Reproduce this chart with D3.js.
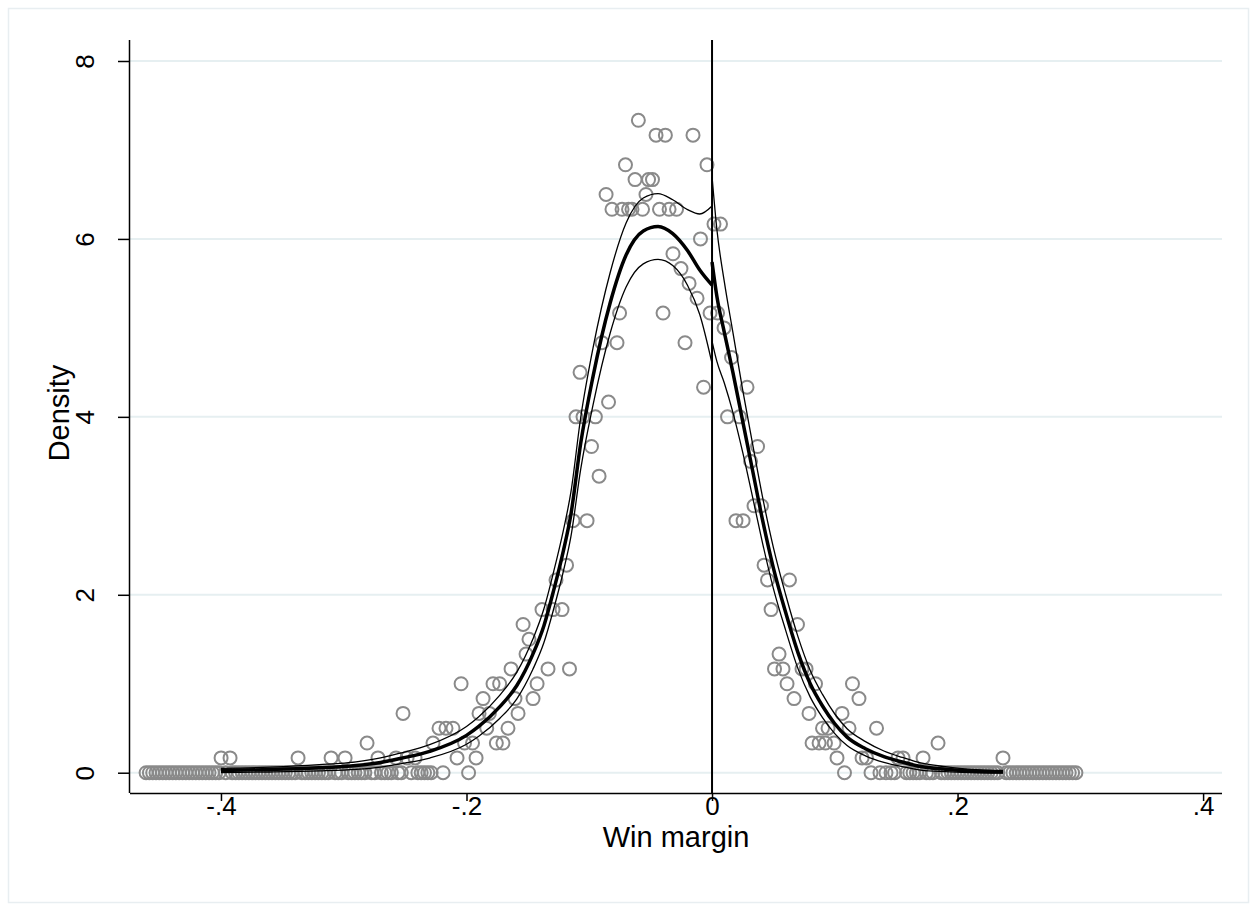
<!DOCTYPE html>
<html>
<head>
<meta charset="utf-8">
<script src="https://cdn.jsdelivr.net/npm/d3@7"></script>
<style>
  html, body { margin: 0; padding: 0; background: #ffffff; }
  svg { display: block; font-family: "Liberation Sans", Arial, sans-serif; }
</style>
</head>
<body>
<svg id="chart" width="1257" height="911"></svg>
<script>
// ---------- data ----------
const xTickValues = [-0.4, -0.2, 0, 0.2, 0.4];
const xTickLabels = ["-.4", "-.2", "0", ".2", ".4"];
const yTickValues = [0, 2, 4, 6, 8];
const yTickLabels = ["0", "2", "4", "6", "8"];
const xTitle = "Win margin";
const yTitle = "Density";
const cutoff = 0;

// binned densities (non-empty bins)
const binX = [
  -0.3999, -0.3926, -0.3372, -0.3103, -0.2989, -0.2810, -0.2721, -0.2574, -0.2517, -0.2484,
  -0.2419, -0.2273, -0.2224, -0.2167, -0.2110, -0.2077, -0.2044, -0.2016, -0.1951, -0.1922,
  -0.1898, -0.1865, -0.1835, -0.1814, -0.1784, -0.1757, -0.1730, -0.1703, -0.1662, -0.1637,
  -0.1605, -0.1580, -0.1539, -0.1515, -0.1491, -0.1458, -0.1425, -0.1385, -0.1336, -0.1295,
  -0.1271, -0.1222, -0.1185, -0.1161, -0.1132, -0.1108, -0.1075, -0.1051, -0.1018, -0.0982,
  -0.0950, -0.0920, -0.0896, -0.0863, -0.0843, -0.0815, -0.0774, -0.0753, -0.0733, -0.0705,
  -0.0680, -0.0652, -0.0627, -0.0600, -0.0566, -0.0538, -0.0517, -0.0485, -0.0456, -0.0428,
  -0.0399, -0.0380, -0.0350, -0.0318, -0.0289, -0.0253, -0.0220, -0.0187, -0.0155, -0.0122,
  -0.0094, -0.0069, -0.0041, -0.0016,
   0.0016,  0.0045,  0.0069,  0.0098,  0.0126,  0.0159,  0.0195,  0.0224,  0.0253,  0.0285,
   0.0314,  0.0342,  0.0371,  0.0403,  0.0424,  0.0452,  0.0481,  0.0509,  0.0546,  0.0578,
   0.0611,  0.0631,  0.0668,  0.0696,  0.0733,  0.0766,  0.0790,  0.0815,  0.0843,  0.0872,
   0.0900,  0.0924,  0.0945,  0.0994,  0.1018,  0.1059,  0.1116,  0.1144,  0.1197,  0.1222,
   0.1258,  0.1340,  0.1515,  0.1556,  0.1719,  0.1841,  0.2370
];
const binDensity = [
  0.1667, 0.1667, 0.1667, 0.1667, 0.1667, 0.3333, 0.1667, 0.1667, 0.6667, 0.1667,
  0.1667, 0.3333, 0.5000, 0.5000, 0.5000, 0.1667, 1.0000, 0.3333, 0.3333, 0.1667,
  0.6667, 0.8333, 0.5000, 0.6667, 1.0000, 0.3333, 1.0000, 0.3333, 0.5000, 1.1667,
  0.8333, 0.6667, 1.6667, 1.3333, 1.5000, 0.8333, 1.0000, 1.8333, 1.1667, 1.8333,
  2.1667, 1.8333, 2.3333, 1.1667, 2.8333, 4.0000, 4.5000, 4.0000, 2.8333, 3.6667,
  4.0000, 3.3333, 4.8333, 6.5000, 4.1667, 6.3333, 4.8333, 5.1667, 6.3333, 6.8333,
  6.3333, 6.3333, 6.6667, 7.3333, 6.3333, 6.5000, 6.6667, 6.6667, 7.1667, 6.3333,
  5.1667, 7.1667, 6.3333, 5.8333, 6.3333, 5.6667, 4.8333, 5.5000, 7.1667, 5.3333,
  6.0000, 4.3333, 6.8333, 5.1667,
  6.1667, 5.1667, 6.1667, 5.0000, 4.0000, 4.6667, 2.8333, 4.0000, 2.8333, 4.3333,
  3.5000, 3.0000, 3.6667, 3.0000, 2.3333, 2.1667, 1.8333, 1.1667, 1.3333, 1.1667,
  1.0000, 2.1667, 0.8333, 1.6667, 1.1667, 1.1667, 0.6667, 0.3333, 1.0000, 0.3333,
  0.5000, 0.3333, 0.5000, 0.3333, 0.1667, 0.6667, 0.5000, 1.0000, 0.8333, 0.1667,
  0.1667, 0.5000, 0.1667, 0.1667, 0.1667, 0.3333, 0.1667
];
// empty bins (density 0)
const zeroBinX = [
  -0.4610, -0.4583, -0.4556, -0.4529, -0.4502, -0.4475, -0.4448, -0.4421, -0.4394, -0.4367,
  -0.4340, -0.4313, -0.4286, -0.4259, -0.4232, -0.4205, -0.4178, -0.4151, -0.4124, -0.4097,
  -0.4070, -0.4043, -0.4016, -0.3962, -0.3908, -0.3881, -0.3854, -0.3827, -0.3800, -0.3773,
  -0.3746, -0.3719, -0.3692, -0.3665, -0.3638, -0.3611, -0.3584, -0.3557, -0.3530, -0.3503,
  -0.3476, -0.3449, -0.3422, -0.3395, -0.3341, -0.3314, -0.3287, -0.3260, -0.3233, -0.3206,
  -0.3179, -0.3152, -0.3125, -0.3071, -0.3044, -0.3017, -0.2963, -0.2936, -0.2909, -0.2882,
  -0.2855, -0.2828, -0.2774, -0.2747, -0.2693, -0.2666, -0.2639, -0.2612, -0.2558, -0.2531,
  -0.2450, -0.2396, -0.2369, -0.2342, -0.2315, -0.2288, -0.2191, -0.1983,
   0.1079,  0.1295,  0.1368,  0.1417,  0.1458,  0.1487,  0.1584,  0.1611,  0.1638,  0.1665,
   0.1692,  0.1746,  0.1773,  0.1800,  0.1868,  0.1895,  0.1922,  0.1949,  0.1976,  0.2003,
   0.2030,  0.2057,  0.2084,  0.2111,  0.2138,  0.2165,  0.2192,  0.2219,  0.2246,  0.2273,
   0.2300,  0.2327,  0.2397,  0.2424,  0.2451,  0.2478,  0.2505,  0.2532,  0.2559,  0.2586,
   0.2613,  0.2640,  0.2667,  0.2694,  0.2721,  0.2748,  0.2775,  0.2802,  0.2829,  0.2856,
   0.2883,  0.2910,  0.2937,  0.2964
];

// fitted density, left of cutoff, with confidence bounds
const leftX     = [-0.40, -0.36, -0.32, -0.29, -0.27, -0.254, -0.23, -0.20, -0.19, -0.173, -0.159, -0.146, -0.137, -0.129, -0.121, -0.115, -0.107, -0.097, -0.083, -0.07, -0.056, -0.044, -0.032, -0.02, -0.01, 0];
const leftFit   = [0.025, 0.035, 0.055, 0.08, 0.115, 0.16, 0.24, 0.42, 0.52, 0.74, 0.98, 1.33, 1.65, 2.05, 2.50, 2.90, 3.70, 4.45, 5.28, 5.82, 6.09, 6.14, 6.06, 5.87, 5.65, 5.48];
const leftLow   = [0.002, 0.008, 0.02, 0.038, 0.064, 0.10, 0.165, 0.32, 0.41, 0.61, 0.83, 1.16, 1.46, 1.84, 2.27, 2.65, 3.41, 4.13, 4.94, 5.46, 5.72, 5.77, 5.70, 5.48, 5.15, 4.60];
const leftHigh  = [0.048, 0.062, 0.09, 0.122, 0.166, 0.22, 0.315, 0.52, 0.63, 0.87, 1.13, 1.50, 1.84, 2.26, 2.73, 3.15, 3.99, 4.77, 5.62, 6.18, 6.46, 6.51, 6.44, 6.33, 6.28, 6.37];
// fitted density, right of cutoff, with confidence bounds
const rightX    = [0, 0.004, 0.01, 0.017, 0.025, 0.033, 0.041, 0.05, 0.06, 0.07, 0.08, 0.09, 0.10, 0.11, 0.125, 0.14, 0.155, 0.17, 0.19, 0.21, 0.237];
const rightFit  = [5.74, 5.35, 4.95, 4.50, 3.95, 3.40, 2.85, 2.30, 1.80, 1.35, 1.00, 0.75, 0.55, 0.40, 0.27, 0.18, 0.12, 0.07, 0.04, 0.02, 0.01];
const rightLow  = [4.85, 4.62, 4.38, 4.05, 3.60, 3.10, 2.59, 2.07, 1.60, 1.17, 0.85, 0.62, 0.44, 0.305, 0.19, 0.116, 0.068, 0.03, 0.012, 0.002, -0.005];
const rightHigh = [6.70, 6.10, 5.52, 4.95, 4.30, 3.70, 3.11, 2.53, 2.00, 1.53, 1.15, 0.88, 0.66, 0.495, 0.35, 0.244, 0.172, 0.11, 0.068, 0.038, 0.025];

// ---------- drawing ----------
const W = 1257, H = 911;
const plot = { left: 130, right: 1222, top: 40, bottom: 793 };
const svg = d3.select("#chart");

svg.append("rect").attr("x", 0).attr("y", 0).attr("width", W).attr("height", H).attr("fill", "#ffffff");
svg.append("rect").attr("x", 8.5).attr("y", 8.5).attr("width", W - 17).attr("height", H - 17)
  .attr("fill", "none").attr("stroke", "#e8eef1").attr("stroke-width", 1.5);

const x = d3.scaleLinear().domain([-0.4741, 0.4154]).range([plot.left, plot.right]);
const y = d3.scaleLinear().domain([-0.228, 8.236]).range([plot.bottom, plot.top]);

// grid
svg.append("g").selectAll("line").data(yTickValues).join("line")
  .attr("x1", plot.left).attr("x2", plot.right)
  .attr("y1", d => y(d)).attr("y2", d => y(d))
  .attr("stroke", "#e6eff1").attr("stroke-width", 2);

// scatter
const pts = binX.map((v, i) => ({ x: v, y: binDensity[i] }))
  .concat(zeroBinX.map(v => ({ x: v, y: 0 })));
svg.append("g").selectAll("circle").data(pts).join("circle")
  .attr("cx", d => x(d.x)).attr("cy", d => y(d.y)).attr("r", 6.5)
  .attr("fill", "none").attr("stroke", "#8a8a8a").attr("stroke-width", 2);

// fitted lines
const line = d3.line().x(d => x(d[0])).y(d => y(d[1])).curve(d3.curveMonotoneX);
function drawLine(xs, ys, w) {
  svg.append("path").datum(xs.map((v, i) => [v, ys[i]]))
    .attr("d", line).attr("fill", "none").attr("stroke", "#000").attr("stroke-width", w)
    .attr("stroke-linejoin", "round");
}
drawLine(leftX, leftLow, 1.3);
drawLine(leftX, leftHigh, 1.3);
drawLine(rightX, rightLow, 1.3);
drawLine(rightX, rightHigh, 1.3);
drawLine(leftX, leftFit, 3.5);
drawLine(rightX, rightFit, 3.5);

// cutoff line
svg.append("line").attr("x1", x(cutoff)).attr("x2", x(cutoff))
  .attr("y1", plot.top).attr("y2", plot.bottom)
  .attr("stroke", "#000").attr("stroke-width", 2);

const FS = 26;     // tick labels
const TFS = 29;    // axis titles
// axes
const xAxis = d3.axisBottom(x).tickValues(xTickValues).tickFormat((d, i) => xTickLabels[i]).tickSize(8).tickPadding(3);
const gx = svg.append("g").attr("transform", `translate(0,${plot.bottom})`).call(xAxis);
gx.select(".domain").attr("d", `M${plot.left},0.5H${plot.right}`).attr("stroke", "#000").attr("stroke-width", 1.5);
gx.selectAll(".tick line").attr("stroke", "#000").attr("stroke-width", 1.5);
gx.selectAll(".tick text").attr("font-size", FS).attr("fill", "#000")
  .attr("font-family", "Liberation Sans, Arial, sans-serif")
  .attr("y", 22).attr("dy", null);

const yAxis = d3.axisLeft(y).tickValues(yTickValues).tickFormat((d, i) => yTickLabels[i]).tickSize(12).tickPadding(6);
const gy = svg.append("g").attr("transform", `translate(${plot.left},0)`).call(yAxis);
gy.select(".domain").attr("d", `M-0.5,${plot.top}V${plot.bottom}`).attr("stroke", "#000").attr("stroke-width", 1.5);
gy.selectAll(".tick line").attr("stroke", "#000").attr("stroke-width", 1.5);
gy.selectAll(".tick text")
  .attr("font-size", FS).attr("fill", "#000").attr("font-family", "Liberation Sans, Arial, sans-serif")
  .attr("x", null).attr("dy", null)
  .attr("text-anchor", "middle")
  .attr("transform", "translate(-36,0) rotate(-90)");

// titles
svg.append("text").attr("x", x(0) - 36).attr("y", 847)
  .attr("text-anchor", "middle").attr("font-size", TFS).attr("fill", "#000").text(xTitle);
svg.append("text").attr("transform", `translate(69,413) rotate(-90)`)
  .attr("text-anchor", "middle").attr("font-size", TFS).attr("fill", "#000").text(yTitle);
</script>
</body>
</html>
